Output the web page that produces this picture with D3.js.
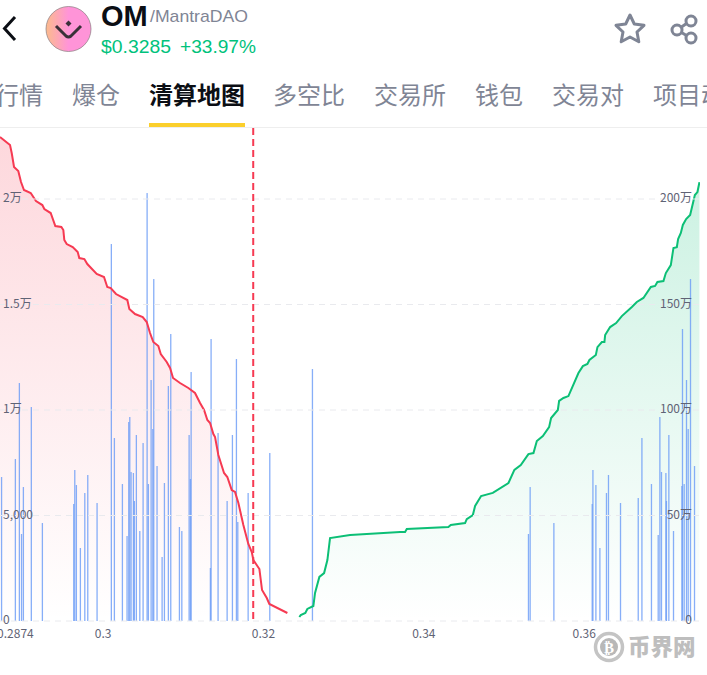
<!DOCTYPE html>
<html><head><meta charset="utf-8">
<script src="https://cdn.jsdelivr.net/npm/d3@7"></script>
<style>
html,body{margin:0;padding:0;background:#fff;overflow:hidden}
svg{display:block}
</style></head><body><svg id="c" width="707" height="675"></svg>
<script>
const coinSymbol="OM", coinName="/MantraDAO", priceLabel="$0.3285", changeLabel="+33.97%";
const tabLabels=["行情","爆仓","清算地图","多空比","交易所","钱包","交易对","项目动态"];
const activeTab="清算地图";
const watermark="币界网";
const xTickValues=[0.2874,0.30,0.32,0.34,0.36];
const xTickLabels=["0.2874","0.3","0.32","0.34","0.36"];
const leftTickValues=[0,5000,10000,15000,20000];
const leftTickLabels=["0","5,000","1万","1.5万","2万"];
const rightTickValues=[0,50,100,150,200];
const rightTickLabels=["0","50万","100万","150万","200万"];
const currentPrice=0.31878;

const bidPrices=[.28720,.28845,.28866,.28895,.28948,.28982,.29019,.29103,.29169,.29248,.29273,.29352,.29410,.29485,.29510,.29522,.29552,.29627,.29689,.29709,.29772,.29809,.29926,.30017,.30058,.30101,.30167,.30308,.30333,.30404,.30500,.30550,.30591,.30632,.30695,.30725,.30799,.30841,.30878,.30965,.31069,.31152,.31215,.31265,.31306,.31340,.31381,.31402,.31443,.31514,.31555,.31610,.31651,.31693,.31755,.31817,.31860,.31880,.31955,.31988,.32047,.32079,.32304];
const bidCum=[22937,22558,22179,21515,21326,20804,20425,20283,19904,19714,19525,19335,18719,18672,18529,18056,17866,17724,17487,17203,17155,16918,16444,16302,15828,15781,15497,15212,14786,14549,14407,14170,13648,13222,13032,12653,12274,11990,11516,11279,11042,10805,10331,9999,9525,9383,8862,8720,7867,7014,6824,6208,6113,5592,4549,3649,3270,2891,2464,1469,1090,806,379];

const askPrices=[.32453,.32471,.32528,.32553,.32628,.32649,.32703,.32762,.32803,.32836,.33086,.33710,.33772,.33793,.34312,.34342,.34520,.34541,.34617,.34645,.34720,.34866,.35061,.35135,.35215,.35310,.35373,.35415,.35490,.35568,.35593,.35677,.35693,.35747,.35809,.35934,.35989,.36046,.36071,.36151,.36171,.36226,.36258,.36267,.36329,.36404,.36475,.36600,.36662,.36744,.36837,.36890,.36919,.36994,.37024,.37086,.37119,.37161,.37177,.37211,.37236,.37277,.37327,.37386,.37418,.37443];
const askCumWan=[1.9,2.8,3.8,5.7,7.1,13.3,20.9,22.7,28.9,39.3,40.8,42.2,42.2,43.6,44.5,45.5,46.4,48.3,50.2,54.5,59.2,60.7,65.4,71.6,73.9,79.1,79.6,85.3,87.7,91.9,96.2,100.0,104.3,105.7,106.6,117.5,120.8,121.8,123.7,126.1,129.8,132.2,132.2,135.5,139.3,141.2,144.5,148.8,151.2,153.1,158.3,158.8,160.7,161.1,164.9,168.7,176.8,177.2,181.0,183.9,187.7,190.5,192.4,201.9,203.3,208.0];

const barPrices=[.28739,.28911,.28961,.28988,.29011,.29110,.29248,.29639,.29652,.29672,.29722,.29777,.29814,.29930,.30108,.30146,.30246,.30304,.30325,.30338,.30354,.30383,.30395,.30420,.30463,.30504,.30554,.30570,.30604,.30625,.30637,.30678,.30741,.30770,.30819,.30849,.30957,.30987,.31078,.31094,.31103,.31343,.31352,.31439,.31552,.31618,.31668,.31685,.31814,.32084,.32616,.35310,.35331,.35627,.36105,.36114,.36151,.36201,.36283,.36308,.36458,.36679,.36725,.36844,.36928,.36949,.36969,.37024,.37031,.37061,.37119,.37224,.37231,.37252,.37281,.37302,.37331,.37381];
const barValues=[6824,7677,11279,4123,6350,10141,4644,5545,7156,6445,3459,6066,6919,5592,17866,8672,6492,4028,9431,9668,7061,7014,5687,8815,4265,8435,20283,6492,11421,9099,16207,7345,3033,6540,11137,13601,4455,4265,8815,6729,11800,2512,13364,8909,5687,8815,12416,4692,6066,7962,11942,4123,6350,4644,5545,7156,6445,3459,6066,6919,5592,5829,8672,6492,4076,9668,7061,7014,5687,8815,4265,6398,13838,6492,11421,9099,16207,7345];

const GRAY="#7f8595", AXIS="#5f6375", RED="#f63a52", GREEN="#0cbf76";
const svg=d3.select("#c");
const defs=svg.append("defs");
const W=700, Y0=621, YT=199;

const x=d3.scaleLinear().domain([0.2872,0.3745]).range([0,W]);
const yL=d3.scaleLinear().domain([0,20000]).range([Y0,YT]);
const yR=d3.scaleLinear().domain([0,200]).range([Y0,YT]);

function grad(id,c,a1,a2,y1){
  const g=defs.append("linearGradient").attr("id",id).attr("gradientUnits","userSpaceOnUse")
    .attr("x1",0).attr("x2",0).attr("y1",y1).attr("y2",Y0);
  g.append("stop").attr("offset",0).attr("stop-color",c).attr("stop-opacity",a1);
  g.append("stop").attr("offset",1).attr("stop-color",c).attr("stop-opacity",a2);
}
grad("gRed","#f63a52",0.2,0,135);
grad("gGreen","#0cbf76",0.21,0,182);
defs.append("clipPath").attr("id","plot").append("rect").attr("x",0).attr("y",128).attr("width",W).attr("height",Y0-128+1);
const logoG=defs.append("linearGradient").attr("id","logo").attr("x1",0).attr("x2",1).attr("y1",0).attr("y2",0);
logoG.append("stop").attr("offset",0).attr("stop-color","#fbbb8c");
logoG.append("stop").attr("offset",0.5).attr("stop-color","#ff94d8");
logoG.append("stop").attr("offset",1).attr("stop-color","#ff94d8");

/* ---------- header ---------- */
const head=svg.append("g");
head.append("path").attr("d","M15 17 L4.5 28.5 L15 40").attr("fill","none").attr("stroke","#0b0e14").attr("stroke-width",3);
head.append("ellipse").attr("cx",68.5).attr("cy",29).attr("rx",22.5).attr("ry",22.5).attr("fill","url(#logo)").attr("stroke","#8a7a80").attr("stroke-width",.7);
head.append("path").attr("d","M56 26 L66 36 Q68.5 38 71 36 L81 26").attr("fill","none").attr("stroke","#3a3038").attr("stroke-width",3);
head.append("path").attr("d","M68.5 20.5 l3 3 l-3 3 l-3 -3 z").attr("fill","#3a3038");
head.append("text").text(coinSymbol).attr("x",101).attr("y",26).attr("font-family","'Liberation Sans',Arial,sans-serif").attr("font-weight",700).attr("font-size",29).attr("fill","#0b0e14");
head.append("text").text(coinName).attr("x",150).attr("y",22).attr("font-family","'Liberation Sans',Arial,sans-serif").attr("font-size",17).attr("fill",GRAY).attr("textLength",98).attr("lengthAdjust","spacingAndGlyphs");
head.append("text").text(priceLabel).attr("x",101).attr("y",53).attr("font-family","'Liberation Sans',Arial,sans-serif").attr("font-size",18).attr("fill","#00c27c").attr("textLength",70).attr("lengthAdjust","spacingAndGlyphs");
head.append("text").text(changeLabel).attr("x",180).attr("y",53).attr("font-family","'Liberation Sans',Arial,sans-serif").attr("font-size",18).attr("fill","#00c27c").attr("textLength",76).attr("lengthAdjust","spacingAndGlyphs");
head.append("path").attr("d","M630 15 L634.3 24 L644 25.3 L637 32 L638.8 41.7 L630 37 L621.2 41.7 L623 32 L616 25.3 L625.7 24 Z").attr("fill","none").attr("stroke",GRAY).attr("stroke-width",3).attr("stroke-linejoin","round");
const sh=head.append("g").attr("fill","none").attr("stroke",GRAY).attr("stroke-width",3);
sh.append("circle").attr("cx",691).attr("cy",21).attr("r",5);
sh.append("circle").attr("cx",677).attr("cy",30).attr("r",5);
sh.append("circle").attr("cx",691).attr("cy",38).attr("r",5);
sh.append("path").attr("d","M681.5 27 L686.5 23.5 M681.5 32.5 L686.5 35.5");

/* ---------- tabs ---------- */
const tabX=[-5,72,149,273,374,475,552,653];
const cjk="'Noto Sans CJK SC','Noto Sans',sans-serif";
svg.append("g").selectAll("text").data(tabLabels).join("text")
  .text(d=>d).attr("x",(d,i)=>tabX[i]).attr("y",104)
  .attr("font-family",cjk).attr("font-size",24)
  .attr("font-weight",d=>d===activeTab?700:400)
  .attr("fill",d=>d===activeTab?"#0b0e14":GRAY);
svg.append("rect").attr("x",0).attr("y",127).attr("width",707).attr("height",1).attr("fill","#eeeeee");
svg.append("rect").attr("x",149).attr("y",123).attr("width",96).attr("height",4).attr("fill","#fbcf2c");

/* ---------- chart ---------- */
const plot=svg.append("g").attr("clip-path","url(#plot)");
const bidPts=bidPrices.map((p,i)=>[p,bidCum[i]]);
const askPts=askPrices.map((p,i)=>[p,askCumWan[i]]);

plot.append("path").datum(bidPts).attr("fill","url(#gRed)")
  .attr("d",d3.area().x(d=>x(d[0])).y0(Y0).y1(d=>yL(d[1])));
plot.append("path").datum(askPts).attr("fill","url(#gGreen)")
  .attr("d",d3.area().x(d=>x(d[0])).y0(Y0).y1(d=>yR(d[1])));

/* grid */
svg.append("g").selectAll("line").data(leftTickValues).join("line")
  .attr("x1",0).attr("x2",W).attr("y1",d=>yL(d)).attr("y2",d=>yL(d))
  .attr("stroke","#e9eaee").attr("stroke-width",1).attr("stroke-dasharray","6 5");

/* bars */
plot.append("g").selectAll("rect").data(barPrices).join("rect")
  .attr("x",d=>x(d)-0.6).attr("width",1.3)
  .attr("y",(d,i)=>yL(barValues[i])).attr("height",(d,i)=>Y0-yL(barValues[i]))
  .attr("fill","#6d9cf6").attr("fill-opacity",.82);

/* lines */
const ln=d3.line().curve(d3.curveLinear);
plot.append("path").datum(bidPts).attr("fill","none").attr("stroke",RED).attr("stroke-width",2)
  .attr("d",ln.x(d=>x(d[0])).y(d=>yL(d[1])));
plot.append("path").datum(askPts).attr("fill","none").attr("stroke",GREEN).attr("stroke-width",2)
  .attr("d",ln.x(d=>x(d[0])).y(d=>yR(d[1])));

/* current price */
svg.append("line").attr("x1",x(currentPrice)).attr("x2",x(currentPrice)).attr("y1",128).attr("y2",Y0)
  .attr("stroke",RED).attr("stroke-width",2).attr("stroke-dasharray","7 4");

/* axes */
function style(g){
  g.select(".domain").remove();
  g.selectAll(".tick line").remove();
  g.selectAll("text").attr("font-family","'Noto Sans CJK SC','Noto Sans',sans-serif").attr("font-size",12).attr("fill",AXIS);
}
svg.append("g").attr("transform","translate(3,-1)")
  .call(d3.axisRight(yL).tickValues(leftTickValues).tickFormat((d,i)=>leftTickLabels[i]).tickSize(0).tickPadding(0)).call(style);
svg.append("g").attr("transform","translate(692,-1)")
  .call(d3.axisLeft(yR).tickValues(rightTickValues).tickFormat((d,i)=>rightTickLabels[i]).tickSize(0).tickPadding(0)).call(style);
const xa=svg.append("g").attr("transform",`translate(0,${Y0})`)
  .call(d3.axisBottom(x).tickValues(xTickValues).tickFormat((d,i)=>xTickLabels[i]).tickSize(0).tickPadding(8)).call(style);
xa.selectAll(".tick").filter(d=>d===xTickValues[0]).select("text").attr("text-anchor","start").attr("x",-5);

/* watermark */
const wm=svg.append("g");
wm.append("circle").attr("cx",609).attr("cy",647).attr("r",13.5).attr("fill","#fff").attr("stroke","#c4c4c4").attr("stroke-width",3.5);
wm.append("circle").attr("cx",609).attr("cy",647).attr("r",9).attr("fill","#b8b8b8");
wm.append("text").text("₿").attr("x",609).attr("y",652.5).attr("text-anchor","middle").attr("font-family","'DejaVu Sans'").attr("font-weight",700).attr("font-size",15).attr("fill","#fff");
wm.append("text").text(watermark).attr("x",628).attr("y",655).attr("font-family",cjk).attr("font-weight",900).attr("font-size",22.5).attr("fill","#bebebe");
</script></body></html>
